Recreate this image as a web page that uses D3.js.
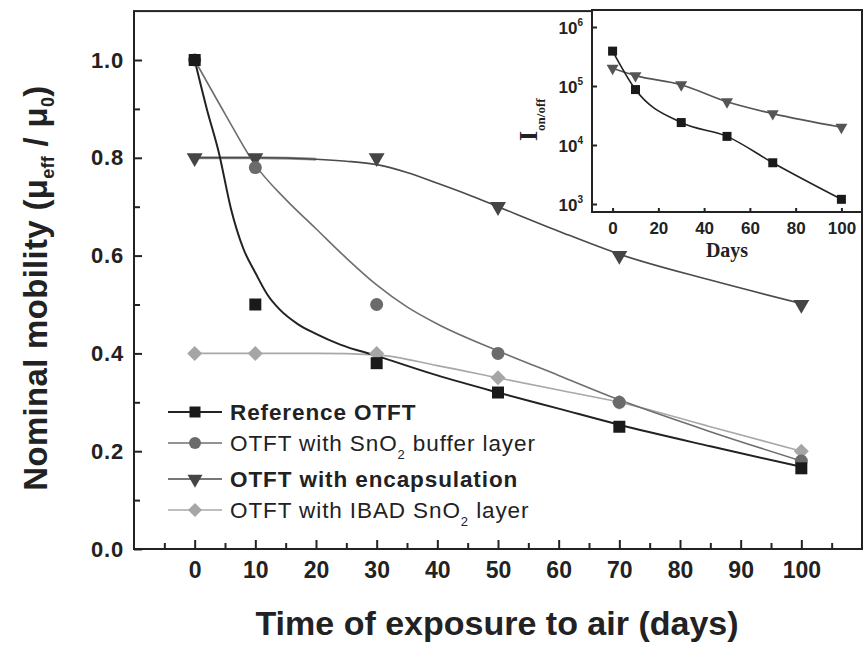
<!DOCTYPE html>
<html>
<head>
<meta charset="utf-8">
<script src="https://cdn.jsdelivr.net/npm/d3@7"></script>
<style>
  body { margin: 0; background: #fff; }
  svg { display: block; font-family: "Liberation Sans", Arial, sans-serif; }
  .tick text { fill: #222; }
  .serif { font-family: "Liberation Serif", "Times New Roman", serif; }
</style>
</head>
<body>
<div id="chart"></div>
<script>
// ---- main chart data (days, nominal mobility) ----
const days = [0, 10, 30, 50, 70, 100];
const refMobility = [1.0, 0.50, 0.38, 0.32, 0.25, 0.165];
const bufferMobility = [1.0, 0.78, 0.50, 0.40, 0.30, 0.18];
const encapMobility = [0.8, 0.8, 0.8, 0.70, 0.60, 0.50];
const ibadMobility = [0.4, 0.4, 0.4, 0.35, 0.30, 0.20];

// fitted curves: [day, mobility]
const refFit = [[0, 1.0], [2, 0.9], [4, 0.81], [6, 0.695], [8, 0.615], [10, 0.565], [12, 0.52], [14, 0.49],
  [17, 0.46], [20, 0.44], [24, 0.418], [30, 0.395], [40, 0.355], [50, 0.32], [60, 0.287], [70, 0.254], [85, 0.21], [100, 0.168]];
const bufferFit = [[0, 1.0], [5, 0.89], [10, 0.785], [15, 0.715], [20, 0.655], [25, 0.595], [30, 0.54], [35, 0.495],
  [40, 0.46], [50, 0.405], [60, 0.355], [70, 0.305], [85, 0.24], [100, 0.18]];
const encapFit = [[0, 0.8], [10, 0.8], [20, 0.797], [25, 0.793], [30, 0.786], [35, 0.77], [40, 0.748], [45, 0.725],
  [50, 0.70], [60, 0.65], [70, 0.603], [85, 0.55], [100, 0.502]];
const ibadFit = [[0, 0.4], [10, 0.4], [20, 0.4], [30, 0.397], [40, 0.375], [50, 0.35], [60, 0.325], [70, 0.30], [85, 0.25], [100, 0.20]];

const xMajorTicks = [0, 10, 20, 30, 40, 50, 60, 70, 80, 90, 100];
const xMinorTicks = [-5, 5, 15, 25, 35, 45, 55, 65, 75, 85, 95, 105];
const yMajorTicks = [0, 0.2, 0.4, 0.6, 0.8, 1.0];
const yMinorTicks = [0.1, 0.3, 0.5, 0.7, 0.9];

// ---- inset data (days, on/off ratio) ----
const insetDays = [0, 10, 30, 50, 70, 100];
const insetRef = [3.9e5, 8.7e4, 2.4e4, 1.4e4, 5.0e3, 1.2e3];
const insetEncap = [2.0e5, 1.5e5, 1.05e5, 5.4e4, 3.4e4, 2.0e4];
const insetXTicks = [0, 20, 40, 60, 80, 100];
const insetYTicks = [1e3, 1e4, 1e5, 1e6];

const series = [
  {name: 'Reference OTFT', bold: true, values: refMobility, fit: refFit, color: '#1a1a1a', line: '#222', width: 2, shape: 'square'},
  {name: 'OTFT with SnO', sub: '2', tail: ' buffer layer', bold: false, values: bufferMobility, fit: bufferFit, color: '#6b6b6b', line: '#6e6e6e', width: 1.6, shape: 'circle'},
  {name: 'OTFT with encapsulation', bold: true, values: encapMobility, fit: encapFit, color: '#454545', line: '#4a4a4a', width: 1.6, shape: 'triangle'},
  {name: 'OTFT with IBAD SnO', sub: '2', tail: ' layer', bold: false, values: ibadMobility, fit: ibadFit, color: '#a6a6a6', line: '#a8a8a8', width: 1.6, shape: 'diamond'}
];

const W = 864, H = 646;
const svg = d3.select('#chart').append('svg').attr('width', W).attr('height', H);

const x = d3.scaleLinear().domain([-10, 110]).range([134, 862]);
const y = d3.scaleLinear().domain([0, 1]).range([549, 60]);

function symbolPath(shape, s) {
  if (shape === 'square') return d3.symbol(d3.symbolSquare, s * s)();
  if (shape === 'circle') return d3.symbol(d3.symbolCircle, Math.PI * (s / 2) * (s / 2))();
  if (shape === 'triangle') return d3.symbol(d3.symbolTriangle, s * s * 0.43)();
  return d3.symbol(d3.symbolSquare, s * s / 2)();
}
function symbolRotate(shape) {
  if (shape === 'triangle') return ' rotate(180)';
  if (shape === 'diamond') return ' rotate(45)';
  return '';
}
const markerSize = {square: 12, circle: 13, triangle: 16, diamond: 15};

// fit lines
const line = d3.line().x(d => x(d[0])).y(d => y(d[1])).curve(d3.curveMonotoneX);
const drawOrder = [3, 2, 1, 0];

// the flat start of the encapsulation curve looks lighter and thicker
svg.append('path')
    .attr('d', line(encapFit.slice(0, 3)))
    .attr('fill', 'none').attr('stroke', '#9a9a9a').attr('stroke-width', 3);

drawOrder.forEach(i => {
  const s = series[i];
  svg.append('path')
      .attr('d', line(s.fit))
      .attr('fill', 'none')
      .attr('stroke', s.line)
      .attr('stroke-width', s.width);
});

// markers
drawOrder.forEach(i => {
  const s = series[i];
  svg.append('g').selectAll('path')
    .data(days.map((d, j) => [d, s.values[j]]))
    .join('path')
      .attr('d', symbolPath(s.shape, markerSize[s.shape]))
      .attr('transform', d => `translate(${x(d[0])},${y(d[1])})${symbolRotate(s.shape)}`)
      .attr('fill', s.color);
});

// frame
svg.append('rect')
    .attr('x', x(-10)).attr('y', y(1.1))
    .attr('width', x(110) - x(-10)).attr('height', y(0) - y(1.1))
    .attr('fill', 'none').attr('stroke', '#222').attr('stroke-width', 2);

// axes
const yAxis = svg.append('g')
    .attr('transform', `translate(${x(-10)},0)`)
    .call(d3.axisLeft(y).tickValues(yMajorTicks).tickSize(-8).tickPadding(10).tickFormat(d3.format('.1f')));
yAxis.select('.domain').remove();
yAxis.selectAll('line').attr('stroke', '#222').attr('stroke-width', 2);
yAxis.selectAll('text').attr('font-size', 22).attr('font-weight', 'bold').attr('letter-spacing', 0.8);

const yMinor = svg.append('g')
    .attr('transform', `translate(${x(-10)},0)`)
    .call(d3.axisLeft(y).tickValues(yMinorTicks).tickSize(-6).tickFormat(''));
yMinor.select('.domain').remove();
yMinor.selectAll('line').attr('stroke', '#222').attr('stroke-width', 2);

const xAxis = svg.append('g')
    .attr('transform', `translate(0,${y(0)})`)
    .call(d3.axisBottom(x).tickValues(xMajorTicks).tickSize(-9).tickPadding(13));
xAxis.select('.domain').remove();
xAxis.selectAll('line').attr('stroke', '#222').attr('stroke-width', 2);
xAxis.selectAll('text').attr('font-size', 23).attr('font-weight', 'bold');

const xMinor = svg.append('g')
    .attr('transform', `translate(0,${y(0)})`)
    .call(d3.axisBottom(x).tickValues(xMinorTicks).tickSize(-6).tickFormat(''));
xMinor.select('.domain').remove();
xMinor.selectAll('line').attr('stroke', '#222').attr('stroke-width', 2);

// axis titles
svg.append('text')
    .attr('x', 497).attr('y', 635)
    .attr('text-anchor', 'middle')
    .attr('font-size', 34).attr('font-weight', 'bold').attr('fill', '#222')
    .text('Time of exposure to air (days)');

const yTitle = svg.append('text')
    .attr('transform', 'translate(47,288) rotate(-90)')
    .attr('text-anchor', 'middle')
    .attr('font-size', 33).attr('font-weight', 'bold').attr('fill', '#222')
    .attr('letter-spacing', 0.3);
yTitle.append('tspan').text('Nominal mobility  (\u03bc');
yTitle.append('tspan').attr('dy', 7).attr('font-size', 18).text('eff');
yTitle.append('tspan').attr('dy', -7).text(' / \u03bc');
yTitle.append('tspan').attr('dy', 7).attr('font-size', 18).text('0');
yTitle.append('tspan').attr('dy', -7).text(')');

// legend
const legendY = [412, 443, 479, 510];
series.forEach((s, i) => {
  const g = svg.append('g').attr('transform', `translate(0,${legendY[i]})`);
  g.append('line').attr('x1', 168).attr('x2', 222).attr('y1', 0).attr('y2', 0)
      .attr('stroke', s.line).attr('stroke-width', s.width);
  g.append('path')
      .attr('d', symbolPath(s.shape, markerSize[s.shape] - 1))
      .attr('transform', `translate(195,0)${symbolRotate(s.shape)}`)
      .attr('fill', s.color);
  const t = g.append('text').attr('x', 230).attr('dy', '0.36em')
      .attr('font-size', 22.5).attr('fill', '#222')
      .attr('font-weight', s.bold ? 'bold' : 'normal')
      .attr('letter-spacing', 0.9);
  t.append('tspan').text(s.name);
  if (s.sub) {
    t.append('tspan').attr('dy', 8).attr('font-size', 13).text(s.sub);
    t.append('tspan').attr('dy', -8).text(s.tail);
  }
});

// ---- inset ----
const ix = d3.scaleLinear().domain([-9, 109]).range([592, 862]);
const iy = d3.scaleLog().domain([1e3, 1e6]).range([204, 27]);
const insetTop = 10, insetBottom = 212;

svg.append('rect')
    .attr('x', ix(-9)).attr('y', insetTop)
    .attr('width', ix(109) - ix(-9)).attr('height', insetBottom - insetTop)
    .attr('fill', '#fff').attr('stroke', '#222').attr('stroke-width', 2);

const iline = d3.line().x(d => ix(d[0])).y(d => iy(d[1])).curve(d3.curveMonotoneX);
const insetSeries = [
  {values: insetEncap, color: '#555', line: '#555', shape: 'triangle', size: 12},
  {values: insetRef, color: '#1a1a1a', line: '#222', shape: 'square', size: 9}
];
insetSeries.forEach(s => {
  const pts = insetDays.map((d, j) => [d, s.values[j]]);
  svg.append('path').attr('d', iline(pts))
      .attr('fill', 'none').attr('stroke', s.line).attr('stroke-width', 1.6);
  svg.append('g').selectAll('path')
    .data(pts)
    .join('path')
      .attr('d', symbolPath(s.shape, s.size))
      .attr('transform', d => `translate(${ix(d[0])},${iy(d[1])})${symbolRotate(s.shape)}`)
      .attr('fill', s.color);
});

const ixAxis = svg.append('g')
    .attr('transform', `translate(0,${insetBottom})`)
    .call(d3.axisBottom(ix).tickValues(insetXTicks).tickSize(-4).tickPadding(10));
ixAxis.select('.domain').remove();
ixAxis.selectAll('line').attr('stroke', '#222').attr('stroke-width', 2);
ixAxis.selectAll('text').attr('font-size', 17).attr('font-weight', 'bold');

const iyAxis = svg.append('g')
    .attr('transform', `translate(${ix(-9)},0)`)
    .call(d3.axisLeft(iy).tickValues(insetYTicks).tickSize(-5).tickPadding(9).tickFormat(''));
iyAxis.select('.domain').remove();
iyAxis.selectAll('line').attr('stroke', '#222').attr('stroke-width', 2);
iyAxis.selectAll('.tick').each(function(d) {
  const t = d3.select(this).append('text')
      .attr('x', -9).attr('dy', '0.4em')
      .attr('text-anchor', 'end')
      .attr('font-size', 17).attr('font-weight', 'bold').attr('fill', '#222');
  t.append('tspan').text('10');
  t.append('tspan').attr('dy', -8).attr('font-size', 10).text(Math.round(Math.log10(d)));
});

svg.append('text')
    .attr('class', 'serif')
    .attr('x', (ix(0) + ix(100)) / 2).attr('y', 257)
    .attr('text-anchor', 'middle')
    .attr('font-size', 20).attr('font-weight', 'bold').attr('fill', '#222')
    .text('Days');

const iyTitle = svg.append('text')
    .attr('class', 'serif')
    .attr('transform', 'translate(537,141) rotate(-90)')
    .attr('font-weight', 'bold').attr('fill', '#222');
iyTitle.append('tspan').attr('font-size', 26).text('I');
iyTitle.append('tspan').attr('dy', 8).attr('font-size', 13).text('on/off');
</script>
</body>
</html>
